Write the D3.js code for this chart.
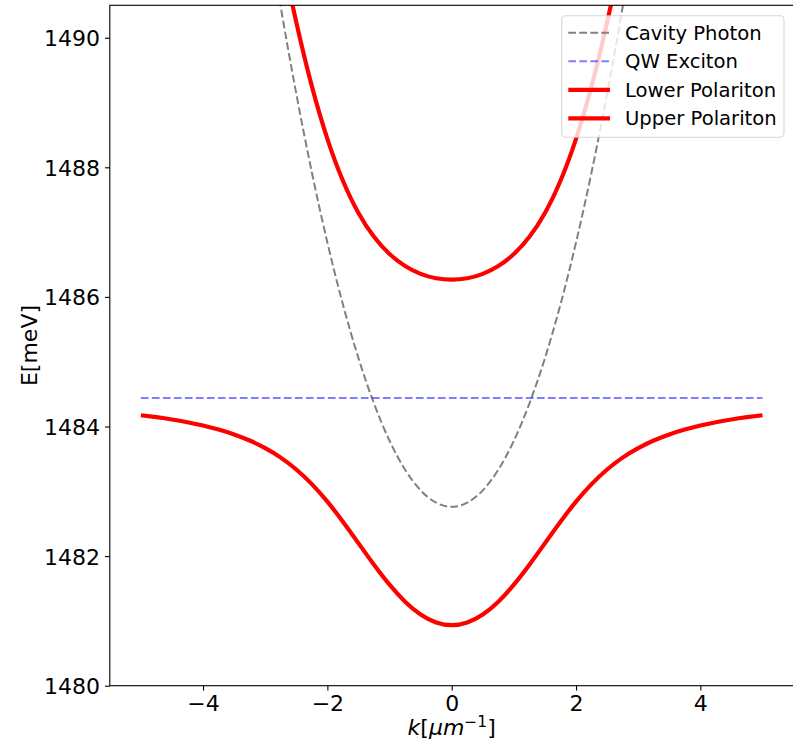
<!DOCTYPE html>
<html>
<head>
<meta charset="utf-8">
<script src="https://cdn.jsdelivr.net/npm/d3@7/dist/d3.min.js"></script>
<style>
  html, body { margin: 0; padding: 0; background: #fff; }
  svg { display: block; font-family: "DejaVu Sans", sans-serif; }
</style>
</head>
<body>
<svg id="chart" width="793" height="748"></svg>
<script>
// ---- data ----
const kLower = [-5,-4.75,-4.5,-4.25,-4,-3.75,-3.5,-3.25,-3,-2.75,-2.5,-2.25,-2,-1.75,-1.5,-1.25,-1,-0.75,-0.5,-0.25,0,
                0.25,0.5,0.75,1,1.25,1.5,1.75,2,2.25,2.5,2.75,3,3.25,3.5,3.75,4,4.25,4.5,4.75,5];
const lowerPolariton = [1484.174,1484.144,1484.109,1484.066,1484.015,1483.953,1483.878,1483.784,1483.666,1483.520,1483.336,1483.110,1482.840,1482.531,1482.199,1481.867,1481.559,1481.297,1481.099,1480.976,1480.934,
                        1480.976,1481.099,1481.297,1481.559,1481.867,1482.199,1482.531,1482.840,1483.110,1483.336,1483.520,1483.666,1483.784,1483.878,1483.953,1484.015,1484.066,1484.109,1484.144,1484.174];
const kUpper = [-3,-2.75,-2.5,-2.25,-2,-1.75,-1.5,-1.25,-1,-0.75,-0.5,-0.25,0,0.25,0.5,0.75,1,1.25,1.5,1.75,2,2.25,2.5,2.75,3];
const upperPolariton = [1492.714,1491.394,1490.239,1489.253,1488.440,1487.793,1487.296,1486.927,1486.661,1486.477,1486.356,1486.288,1486.266,
                        1486.288,1486.356,1486.477,1486.661,1486.927,1487.296,1487.793,1488.440,1489.253,1490.239,1491.394,1492.714];
const cavityPhoton = [1491.940,1490.474,1489.135,1487.924,1486.840,1485.884,1485.055,1484.354,1483.780,1483.334,1483.015,1482.824,1482.760,
                      1482.824,1483.015,1483.334,1483.780,1484.354,1485.055,1485.884,1486.840,1487.924,1489.135,1490.474,1491.940];
const kExciton = [-5, 5];
const qwExciton = [1484.44, 1484.44];
const xTicks = [-4, -2, 0, 2, 4];
const yTicks = [1480, 1482, 1484, 1486, 1488, 1490];
const legendLabels = ["Cavity Photon", "QW Exciton", "Lower Polariton", "Upper Polariton"];

// ---- layout ----
const svg = d3.select("#chart");
const L = 109.8, R = 793.6, T = 5.3, B = 685.7;
const x = d3.scaleLinear().domain([-5.5, 5.5]).range([L, R]);
const y = d3.scaleLinear().domain([1480, 1490.5]).range([B, T]);

svg.append("defs").append("clipPath").attr("id", "clip")
  .append("rect").attr("x", L).attr("y", T).attr("width", R - L).attr("height", B - T);

const line = d3.line().x(d => x(d[0])).y(d => y(d[1])).curve(d3.curveNatural);
const zip = (a, b) => a.map((v, i) => [v, b[i]]);

const series = [
  { name: legendLabels[0], pts: zip(kUpper, cavityPhoton), color: "#808080", width: 2.0, dash: "7.7,3.3", opacity: 1 },
  { name: legendLabels[1], pts: zip(kExciton, qwExciton), color: "#0000ff", width: 2.0, dash: "7.7,3.3", opacity: 0.5 },
  { name: legendLabels[2], pts: zip(kLower, lowerPolariton), color: "#ff0000", width: 4.17, dash: null, opacity: 1 },
  { name: legendLabels[3], pts: zip(kUpper, upperPolariton), color: "#ff0000", width: 4.17, dash: null, opacity: 1 }
];

const plot = svg.append("g").attr("clip-path", "url(#clip)");
series.forEach(s => {
  plot.append("path").datum(s.pts)
    .attr("d", line)
    .attr("fill", "none")
    .attr("stroke", s.color)
    .attr("stroke-opacity", s.opacity)
    .attr("stroke-width", s.width)
    .attr("stroke-dasharray", s.dash)
    .attr("stroke-linecap", "butt");
});

// ---- axes ----
const tickLen = 4.86, pad = 4.86;
const xAxis = d3.axisBottom(x).tickValues(xTicks).tickSize(tickLen).tickPadding(pad);
const gx = svg.append("g").attr("transform", `translate(0,${B})`).call(xAxis);
gx.select(".domain").remove();
gx.selectAll(".tick line").attr("stroke", "#000").attr("stroke-width", 1.1);
gx.selectAll(".tick text").attr("font-size", 22).attr("fill", "#000")
  .attr("font-family", "DejaVu Sans").attr("dy", null).attr("y", 25.8);

const yAxis = d3.axisLeft(y).tickValues(yTicks).tickSize(tickLen).tickPadding(pad).tickFormat(d3.format("d"));
const gy = svg.append("g").attr("transform", `translate(${L},0)`).call(yAxis);
gy.select(".domain").remove();
gy.selectAll(".tick line").attr("stroke", "#000").attr("stroke-width", 1.1);
gy.selectAll(".tick text").attr("font-size", 22).attr("fill", "#000")
  .attr("font-family", "DejaVu Sans").attr("dy", "0.36em");

// spines
svg.append("rect").attr("x", L).attr("y", T).attr("width", R - L).attr("height", B - T)
  .attr("fill", "none").attr("stroke", "#000").attr("stroke-width", 1.1);

// axis labels
const xl = svg.append("text").attr("x", x(0)).attr("y", 735).attr("text-anchor", "middle")
  .attr("font-size", 22).attr("fill", "#000");
xl.append("tspan").attr("font-style", "italic").text("k");
xl.append("tspan").text("[");
xl.append("tspan").attr("font-style", "italic").text("μm");
xl.append("tspan").attr("font-size", 15.5).attr("dy", -8).text("−1");
xl.append("tspan").attr("dy", 8).text("]");

svg.append("text").attr("transform", `translate(36.5,${(T + B) / 2}) rotate(-90)`)
  .attr("text-anchor", "middle").attr("font-size", 22).attr("fill", "#000").text("E[meV]");

// ---- legend ----
const lg = svg.append("g");
lg.append("rect").attr("x", 561.7).attr("y", 15.7).attr("width", 222.3).attr("height", 121.6)
  .attr("rx", 4).attr("ry", 4)
  .attr("fill", "#fff").attr("fill-opacity", 0.8)
  .attr("stroke", "#cccccc").attr("stroke-opacity", 0.8).attr("stroke-width", 1.1);
const rowY = [32.7, 61.2, 89.8, 118.3];
series.forEach((s, i) => {
  lg.append("line").attr("x1", 568.3).attr("x2", 610).attr("y1", rowY[i]).attr("y2", rowY[i])
    .attr("stroke", s.color).attr("stroke-opacity", s.opacity)
    .attr("stroke-width", s.width).attr("stroke-dasharray", s.dash);
  lg.append("text").attr("x", 625).attr("y", rowY[i] + 7).attr("font-size", 19.6)
    .attr("fill", "#000").text(s.name);
});
</script>
</body>
</html>
